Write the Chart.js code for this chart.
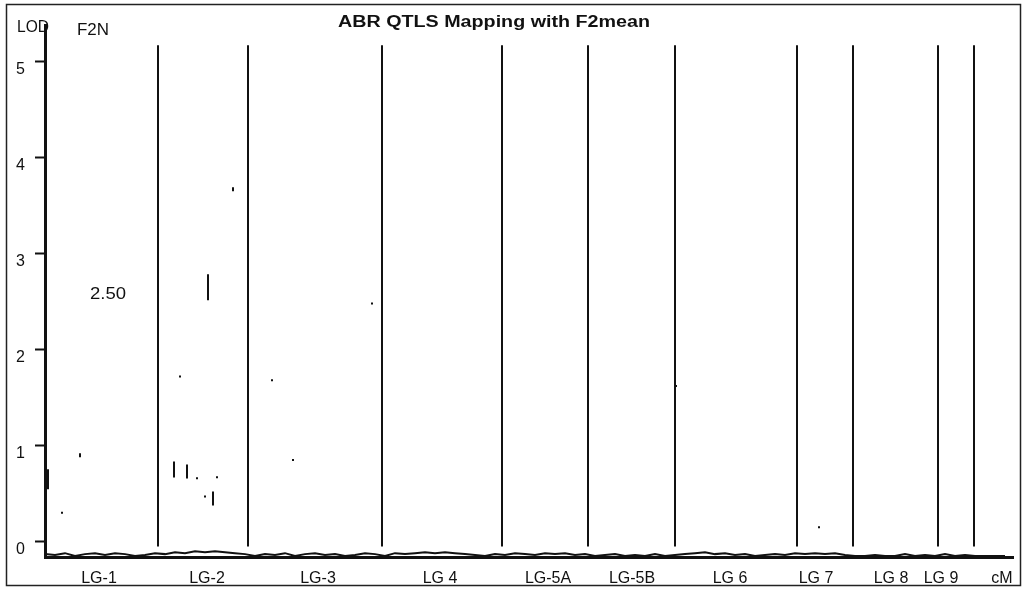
<!DOCTYPE html>
<html>
<head>
<meta charset="utf-8">
<script src="https://cdn.jsdelivr.net/npm/chart.js@4.4.1/dist/chart.umd.min.js"></script>
<style>
  html, body { margin: 0; padding: 0; background: #fff; }
  #chart { display: block; }
</style>
</head>
<body>
<canvas id="chart" width="1023" height="591"></canvas>
<script>
// linkage group boundaries (cM along the genome axis)
const groupBounds = [113, 203, 337, 457, 543, 630, 752, 808, 893, 929];
// group labels and where they sit on the cM axis
const groupNames = ['LG-1', 'LG-2', 'LG-3', 'LG 4', 'LG-5A', 'LG-5B', 'LG 6', 'LG 7', 'LG 8', 'LG 9', 'cM'];
const groupLabelPos = [54, 162, 273, 395, 503, 587, 685, 771, 846, 896, 957];

// LOD profile along the genome (almost flat near the baseline)
const lodCm = [0, 10, 20, 30, 40, 50, 60, 70, 80, 90, 100, 110, 120, 130, 140, 150, 160, 170, 180, 190,
  200, 210, 220, 230, 240, 250, 260, 270, 280, 290, 300, 310, 320, 330, 340, 350, 360, 370, 380, 390,
  400, 410, 420, 430, 440, 450, 460, 470, 480, 490, 500, 510, 520, 530, 540, 550, 560, 570, 580, 590,
  600, 610, 620, 630, 640, 650, 660, 670, 680, 690, 700, 710, 720, 730, 740, 750, 760, 770, 780, 790,
  800, 810, 820, 830, 840, 850, 860, 870, 880, 890, 900, 910, 920, 930, 940, 950, 960];
const lodValues = [-0.13, -0.14, -0.12, -0.15, -0.13, -0.12, -0.14, -0.12, -0.13, -0.15, -0.14, -0.12, -0.13, -0.11, -0.12, -0.10, -0.11, -0.10, -0.11, -0.12,
  -0.13, -0.15, -0.13, -0.14, -0.12, -0.15, -0.13, -0.12, -0.14, -0.13, -0.15, -0.14, -0.12, -0.13, -0.15, -0.12, -0.13, -0.12, -0.11, -0.12,
  -0.11, -0.12, -0.13, -0.14, -0.15, -0.13, -0.14, -0.12, -0.13, -0.14, -0.12, -0.13, -0.12, -0.14, -0.13, -0.15, -0.14, -0.13, -0.15, -0.14,
  -0.15, -0.13, -0.15, -0.14, -0.13, -0.12, -0.11, -0.13, -0.12, -0.14, -0.13, -0.15, -0.14, -0.13, -0.14, -0.12, -0.13, -0.12, -0.13, -0.12,
  -0.14, -0.15, -0.15, -0.14, -0.15, -0.15, -0.13, -0.15, -0.14, -0.15, -0.13, -0.15, -0.14, -0.15, -0.15, -0.15, -0.15];

// faint marks left on the scan (cM, LOD, size)
const markCm = [3, 17, 35, 129, 142, 152, 160, 163, 168, 172, 135, 188, 227, 248, 327, 631, 774];
const markLod = [0.65, 0.3, 0.9, 0.75, 0.73, 0.66, 0.47, 2.65, 0.45, 0.67, 1.72, 3.67, 1.68, 0.85, 2.48, 1.62, 0.15];
const markSize = [10, 1, 2, 8, 7, 1, 1, 13, 7, 1, 1, 2, 1, 1, 1, 1, 1];

const yTicks = [0, 1, 2, 3, 4, 5];
const lineTop = 5.17, lineBottom = -0.05;
const threshold = 2.5;

// build the separator segments, broken with nulls
const sepData = [];
groupBounds.forEach(function (b) {
    sepData.push({ x: b, y: lineTop }, { x: b, y: lineBottom }, { x: b, y: null });
});

const lodData = lodCm.map(function (c, i) { return { x: c, y: lodValues[i] }; });
const markData = markCm.map(function (c, i) { return { x: c, y: markLod[i] }; });

// draw text stretched to a given width (the scan uses a wide face)
function wideText(ctx, txt, x, y, w) {
    const m = ctx.measureText(txt).width;
    ctx.save();
    ctx.translate(x, y);
    ctx.scale(w / m, 1);
    ctx.fillText(txt, 0, 0);
    ctx.restore();
}

// frame and free text drawn on top
const decorations = {
    id: 'decorations',
    afterDraw(chart) {
        const ctx = chart.ctx;
        const ys = chart.scales.y, xs = chart.scales.x;
        ctx.save();
        ctx.strokeStyle = '#222';
        ctx.lineWidth = 1.5;
        ctx.strokeRect(6.5, 4.5, 1014, 581);
        ctx.fillStyle = '#111';
        ctx.textBaseline = 'alphabetic';
        ctx.textAlign = 'left';
        ctx.font = '16px "Liberation Sans", Arial, sans-serif';
        wideText(ctx, 'LOD', 17, 32, 32);
        wideText(ctx, 'F2N', 77, 35, 32);
        ctx.font = 'bold 16px "Liberation Sans", Arial, sans-serif';
        wideText(ctx, 'ABR QTLS Mapping with F2mean', 338, 27, 312);
        ctx.font = '16px "Liberation Sans", Arial, sans-serif';
        wideText(ctx, '2.50', xs.getPixelForValue(45), ys.getPixelForValue(threshold) - 3, 36);
        ctx.restore();
    }
};

new Chart(document.getElementById('chart'), {
    type: 'line',
    data: {
        datasets: [
            {
                label: 'separators',
                data: sepData,
                borderColor: '#111',
                borderWidth: 2,
                pointRadius: 0,
                spanGaps: false
            },
            {
                label: 'LOD',
                data: lodData,
                borderColor: '#111',
                borderWidth: 2,
                pointRadius: 0,
                tension: 0
            },
            {
                label: 'marks',
                type: 'scatter',
                data: markData,
                pointStyle: 'line',
                rotation: 90,
                pointRadius: markSize,
                borderColor: '#111',
                borderWidth: 2,
                backgroundColor: '#111'
            }
        ]
    },
    options: {
        responsive: false,
        animation: false,
        layout: {
            autoPadding: false,
            padding: { top: 25, right: 10, left: 0, bottom: 0 }
        },
        plugins: {
            legend: { display: false },
            tooltip: { enabled: false }
        },
        scales: {
            x: {
                type: 'linear',
                min: 0,
                max: 968,
                afterFit: function (s) {
                    s.height = 34;
                    s.paddingLeft = 0;
                    s.paddingRight = 0;
                },
                afterBuildTicks: function (s) {
                    s.ticks = groupLabelPos.map(function (v) { return { value: v }; });
                },
                ticks: {
                    autoSkip: false,
                    maxRotation: 0,
                    padding: 12,
                    color: '#111',
                    font: { family: '"Liberation Sans", Arial, sans-serif', size: 16 },
                    callback: function (v) {
                        const i = groupLabelPos.indexOf(v);
                        return i >= 0 ? groupNames[i] : '';
                    }
                },
                grid: { display: false, drawTicks: false },
                border: { display: true, color: '#111', width: 3 }
            },
            y: {
                type: 'linear',
                min: -0.16,
                max: 5.38,
                afterFit: function (s) {
                    s.width = 45;
                    s.paddingTop = 0;
                    s.paddingBottom = 0;
                },
                afterBuildTicks: function (s) {
                    s.ticks = yTicks.map(function (v) { return { value: v }; });
                },
                ticks: {
                    padding: 10,
                    labelOffset: 8,
                    color: '#111',
                    font: { family: '"Liberation Sans", Arial, sans-serif', size: 16 }
                },
                grid: {
                    drawOnChartArea: false,
                    drawTicks: true,
                    tickLength: 10,
                    tickWidth: 2,
                    color: '#111'
                },
                border: { display: true, color: '#111', width: 3 }
            }
        }
    },
    plugins: [decorations]
});
</script>
</body>
</html>
